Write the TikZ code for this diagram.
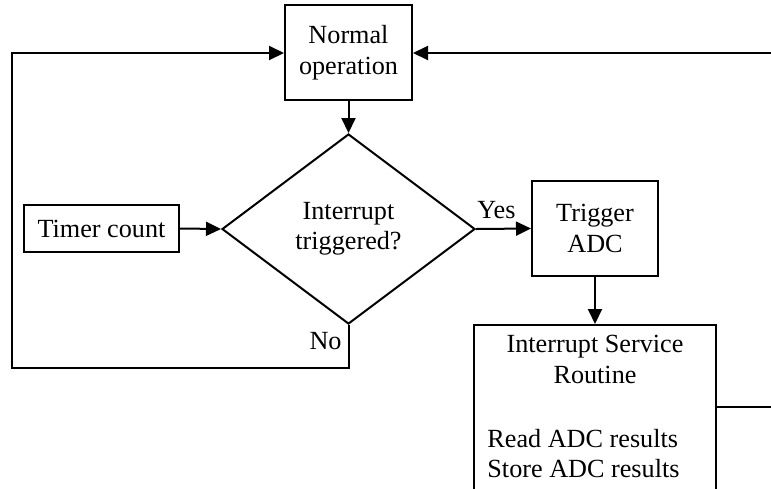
\documentclass[tikz,border=0pt]{standalone}
\usepackage{fontspec}
\setmainfont{Liberation Serif}
\usetikzlibrary{shapes.geometric,arrows.meta}

\tikzset{
  px/.style={x=0.5pt,y=-0.5pt},
  box/.style={draw,line width=1pt,rectangle,inner sep=0pt,align=center,
    font=\fontsize{13.1}{15.2}\selectfont},
  decision/.style={draw,line width=1pt,diamond,inner sep=0pt,align=center,
    font=\fontsize{13.1}{15.2}\selectfont,shape aspect=1.33},
  txt/.style={inner sep=0pt,font=\fontsize{13.1}{15.2}\selectfont},
  flow/.style={line width=1pt,-{Triangle[length=7.5pt,width=7pt]}},
  wire/.style={line width=1pt},
}

\begin{document}
\begin{tikzpicture}[px]
  \useasboundingbox (0,0) rectangle (771,488);
  \clip (0,0) rectangle (771,488);

  % process boxes
  \node[box,minimum width=63.5pt,minimum height=47.5pt] (normal) at (348.5,52.5) {Normal\\operation};
  \node[decision,minimum width=126.5pt,minimum height=95pt] (irq) at (348.5,229) {Interrupt\\triggered?};
  \node[box,minimum width=77.5pt,minimum height=23.5pt] (timer) at (101.5,228.5) {Timer count};
  \node[box,minimum width=63pt,minimum height=47.5pt] (trigger) at (595,228.5) {Trigger\\ADC};
  \node[box,minimum width=121pt,minimum height=98pt,anchor=north] (isr) at (595,324) {};

  % service routine text
  \node[txt,align=center,anchor=north] (isrtitle) at (595,335) {Interrupt Service\\Routine};
  \node[txt,align=left,anchor=north west] (isrbody) at (487,429) {Read ADC results\\Store ADC results};

  % loop coordinates
  \coordinate (nocorner) at (348.5,368);
  \coordinate (leftbottom) at (12,368);
  \coordinate (lefttop) at (12,53);
  \coordinate (rightin) at (771,53);
  \coordinate (rightout) at (771,407);
  \coordinate (isrright) at (isr.east |- rightout);

  % connectors
  \draw[flow] (normal.south) -- (irq.north);
  \draw[flow] (timer.east) -- (irq.west);
  \draw[flow] (irq.east) -- (trigger.west);
  \draw[flow] (trigger.south) -- (isr.north);
  \draw[flow] (irq.south) -- (nocorner) -- (leftbottom) -- (lefttop) -- (normal.west |- lefttop);
  \draw[flow] (rightin) -- (normal.east |- rightin);
  \draw[wire] (isrright) -- (rightout);

  % branch labels
  \node[txt,anchor=base west] (yes) at (477,218) {Yes};
  \node[txt,anchor=base east] (no) at (342,349) {No};
\end{tikzpicture}
\end{document}
